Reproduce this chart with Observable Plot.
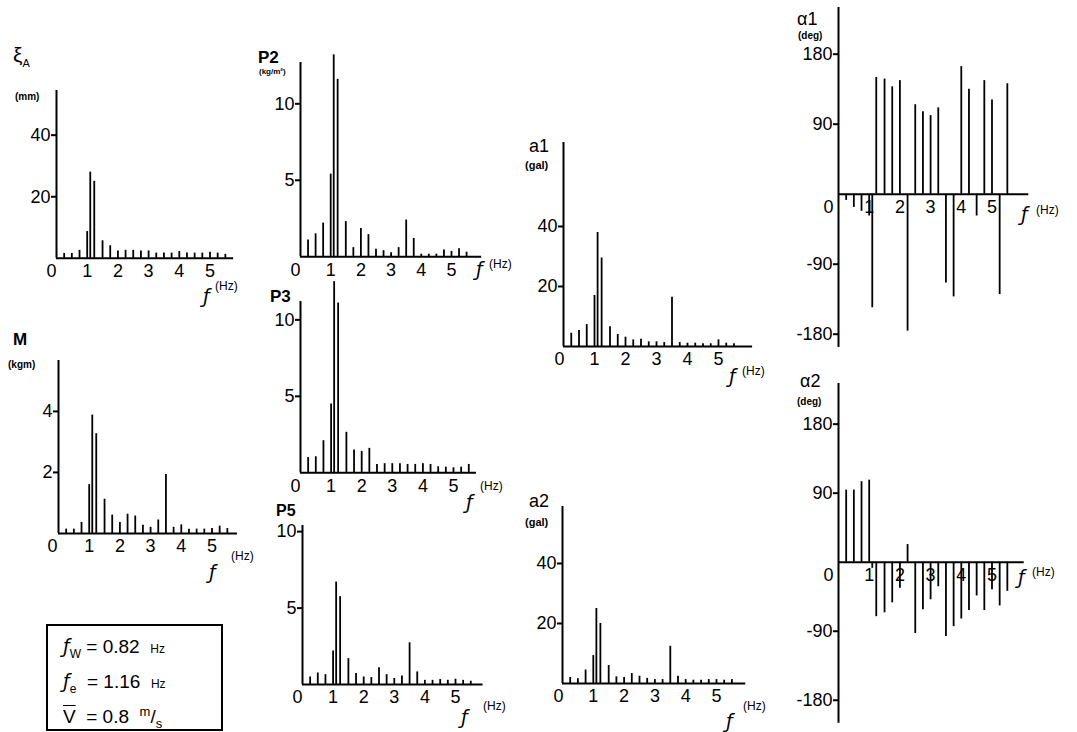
<!DOCTYPE html>
<html><head><meta charset="utf-8">
<script src="https://cdn.jsdelivr.net/npm/d3@7"></script>
<script src="https://cdn.jsdelivr.net/npm/@observablehq/plot@0.6"></script>
<style>
body{margin:0;background:#fff;}
#fig{position:relative;width:1077px;height:732px;font-family:"Liberation Sans",Arial,sans-serif;color:#000;overflow:hidden;background:#fff;}
.lab{position:absolute;white-space:nowrap;line-height:1;}
.box{position:absolute;border:2px solid #000;box-sizing:border-box;}
.bl{position:absolute;white-space:nowrap;line-height:1;font-size:19px;}
.sf{font-family:"DejaVu Sans",sans-serif;font-style:italic;}
.u{font-size:12px;}
</style></head><body><div id="fig"></div><script>
// frequencies of the spectral lines (Hz)
const freq = [0.25,0.5,0.75,1.0,1.1,1.23,1.5,1.75,2.0,2.25,2.5,2.75,3.0,3.25,3.5,3.75,4.0,4.25,4.5,4.75,5.0,5.25,5.5];
const xTickLabels = [1,2,3,4,5];
// amplitudes
const xiA    = [1.6,1.6,2.6,8.7,28,25,5.7,4.1,2.4,2.6,2.6,2.4,2.4,1.7,1.7,1.7,2.2,1.7,1.7,1.7,2.0,1.7,1.3];
const Mval   = [0.14,0.14,0.36,1.6,3.88,3.27,1.12,0.6,0.36,0.63,0.57,0.27,0.2,0.44,1.93,0.2,0.28,0.14,0.14,0.14,0.16,0.24,0.16];
const P2     = [1.1,1.5,2.2,5.4,13.2,11.6,2.3,0.6,1.85,1.45,0.5,0.4,0.26,0.6,2.4,1.2,0.17,0.17,0.17,0.44,0.35,0.52,0.3];
const P3     = [1.0,1.05,2.1,4.5,12.5,11.1,2.65,1.5,1.4,1.6,0.55,0.6,0.6,0.6,0.55,0.55,0.6,0.55,0.4,0.37,0.33,0.37,0.55];
const P5     = [0.5,0.76,0.65,2.2,6.7,5.75,1.7,0.72,0.5,0.46,1.1,0.65,0.4,0.57,2.73,0.83,0.28,0.28,0.33,0.28,0.35,0.28,0.22];
const a1     = [4.4,5.3,7.3,17,38,29.5,6.6,4.0,3.1,2.2,2.4,1.55,1.55,1.3,16.4,1.3,1.1,1.1,0.9,0.9,2.2,1.1,0.9];
const a2     = [2.0,1.6,4.5,9.3,25,20,6.0,2.2,2.0,3.3,2.4,1.7,1.3,1.3,12.4,2.4,1.3,1.1,1.1,1.3,1.3,1.1,1.3];
// phases (deg)
const alpha1 = [-8,-17,-22,-28,-146,150,148,138,146,-176,115,106,101,111,-114,-132,164,135,-28,146,121,-129,142];
const alpha2 = [94,94,105,107,-8,-71,-66,-53,-34,23,-93,-62,-49,-32,-97,-84,-74,-63,-44,-63,-36,-57,-38];
// y tick labels
const ampTicks20 = [20,40], ampTicks2 = [2,4], ampTicks5 = [5,10], degTicks = [-180,-90,90,180];

const panels = [
  {values:xiA,  left:56,  base:258, kx:30.7, ky:3.08, ymin:0, ymax:54.5, xmax:5.77, yticks:ampTicks20, zdx:-5, fx:203, fy:287, hx:215, hy:280},
  {values:Mval, left:58,  base:533, kx:30.7, ky:30.5, ymin:0, ymax:5.67, xmax:5.83, yticks:ampTicks2,  zdx:-6, fx:209, fy:563, hx:231, hy:550},
  {values:P2,   left:300, base:256, kx:30.2, ky:15.3, ymin:0, ymax:12.7, xmax:6.0,  yticks:ampTicks5,  zdx:-5, fx:476, fy:260, hx:489, hy:258},
  {values:P3,   left:300, base:472, kx:30.6, ky:15.3, ymin:0, ymax:11.2, xmax:5.75, yticks:ampTicks5,  zdx:-5, fx:466, fy:493, hx:480, hy:480},
  {values:P5,   left:302, base:684, kx:30.6, ky:15.3, ymin:0, ymax:10.4, xmax:5.9,  yticks:ampTicks5,  zdx:-5, fx:461, fy:708, hx:483, hy:700},
  {values:a1,   left:563, base:346, kx:31.0, ky:3.0,  ymin:0, ymax:68,   xmax:6.1,  yticks:ampTicks20, zdx:-4, fx:729, fy:367, hx:742, hy:365},
  {values:a2,   left:562, base:683, kx:30.8, ky:3.0,  ymin:0, ymax:59,   xmax:5.95, yticks:ampTicks20, zdx:-4, fx:726, fy:712, hx:743, hy:700},
  {values:alpha1,left:838,base:194, kx:30.7, ky:0.778,ymin:-197,ymax:240,xmax:6.2,  yticks:degTicks,   zdx:-10,fx:1021,fy:205, hx:1036,hy:204},
  {values:alpha2,left:838,base:562, kx:30.7, ky:0.767,ymin:-210,ymax:233,xmax:6.05, yticks:degTicks,   zdx:-10,fx:1018,fy:568, hx:1032,hy:566}
];

const titles = [
  {html:'ξ<sub style="font-size:11px">A</sub>', x:13, y:44, size:21, w:"normal"},
  {html:'(mm)', x:15, y:92, size:10, w:"bold"},
  {html:'M', x:13, y:331, size:17, w:"bold"},
  {html:'(kgm)', x:8, y:360, size:10, w:"bold"},
  {html:'P2', x:258, y:49, size:17, w:"bold"},
  {html:'(kg/m²)', x:259, y:68, size:8, w:"bold"},
  {html:'P3', x:270, y:288, size:17, w:"bold"},
  {html:'P5', x:276, y:503, size:16, w:"bold"},
  {html:'a1', x:529, y:137, size:18, w:"normal"},
  {html:'(gal)', x:525, y:160, size:11, w:"bold"},
  {html:'a2', x:529, y:492, size:18, w:"normal"},
  {html:'(gal)', x:525, y:517, size:11, w:"bold"},
  {html:'α1', x:797, y:10, size:18, w:"normal"},
  {html:'(deg)', x:798, y:31, size:10, w:"bold"},
  {html:'α2', x:800, y:372, size:18, w:"normal"},
  {html:'(deg)', x:797, y:397, size:10, w:"bold"}
];

const fig = document.getElementById("fig");
function label(html, x, y, size, weight, extra) {
  const d = document.createElement("div");
  d.className = "lab";
  d.innerHTML = html;
  d.style.left = x + "px"; d.style.top = y + "px";
  d.style.fontSize = size + "px"; d.style.fontWeight = weight || "normal";
  if (extra) d.style.cssText += extra;
  fig.appendChild(d);
}

function drawPanel(p) {
  const mL = 45, mR = 6, mT = 30, mB = 30;
  const w = p.xmax * p.kx, h = (p.ymax - p.ymin) * p.ky;
  const data = freq.map((f, i) => ({f, v: p.values[i]}));
  const svg = Plot.plot({
    width: mL + w + mR, height: mT + h + mB,
    marginLeft: mL, marginRight: mR, marginTop: mT, marginBottom: mB,
    x: {domain: [0, p.xmax], axis: null},
    y: {domain: [p.ymin, p.ymax]},
    style: {background: "transparent", overflow: "visible", fontFamily: "'Liberation Sans', Arial, sans-serif", fontSize: "18px", color: "#000"},
    marks: [
      Plot.ruleX([0], {y1: p.ymin, y2: p.ymax, stroke: "#000", strokeWidth: 2}),
      Plot.ruleY([0], {x1: 0, x2: p.xmax, stroke: "#000", strokeWidth: 2}),
      Plot.ruleX(data, {x: "f", y1: 0, y2: "v", stroke: "#000", strokeWidth: 1.8}),
      Plot.axisY(p.yticks, {tickSize: 5, tickPadding: 1, tickFormat: d => String(d), fontSize: 18, strokeWidth: 2, label: null}),
      Plot.text(xTickLabels, {x: d => d, y: 0, dy: 13, text: d => String(d), fontSize: 18, fill: "#000"}),
      Plot.text([0], {x: d => d, y: 0, dx: p.zdx, dy: 13, text: d => String(d), fontSize: 18, fill: "#000"})
    ]
  });
  svg.style.position = "absolute";
  svg.style.left = (p.left - mL) + "px";
  svg.style.top = (p.base - p.ymax * p.ky - mT) + "px";
  fig.appendChild(svg);
  label('ƒ', p.fx, p.fy, 19, "normal", "font-family:'DejaVu Sans',sans-serif;font-style:italic;");
  label('(Hz)', p.hx, p.hy, 12, "normal");
}

panels.forEach(drawPanel);
titles.forEach(t => label(t.html, t.x, t.y, t.size, t.w));

// parameter box
const box = document.createElement("div");
box.className = "box";
box.style.cssText += "left:46px;top:624px;width:177px;height:107px;";
const boxLines = [
  {html:'<span class="sf">ƒ</span><sub style="font-size:12px">W</sub> = 0.82 &nbsp;<span class="u">Hz</span>', top:11},
  {html:'<span class="sf">ƒ</span><sub style="font-size:12px">e</sub> &nbsp;= 1.16 &nbsp;<span class="u">Hz</span>', top:46},
  {html:'<span style="text-decoration:overline">V</span> &nbsp;= 0.8 &nbsp;<sup style="font-size:13px">m</sup>/<sub style="font-size:13px">s</sub>', top:79}
];
boxLines.forEach(l => {
  const d = document.createElement("div");
  d.className = "bl"; d.innerHTML = l.html;
  d.style.left = "15px"; d.style.top = l.top + "px";
  box.appendChild(d);
});
fig.appendChild(box);
</script></body></html>
